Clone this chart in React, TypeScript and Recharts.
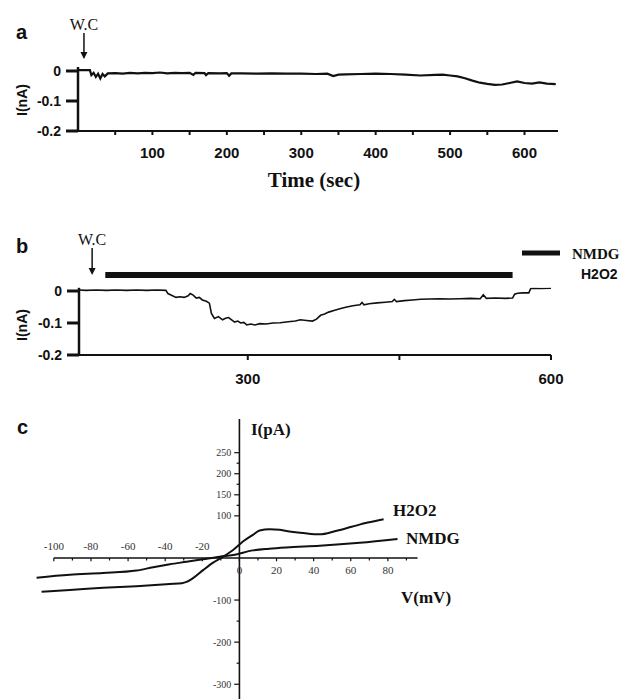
import React from "react"
import { LineChart, Line, XAxis, YAxis, ReferenceLine, ReferenceDot } from "recharts"

const sans = "'Liberation Sans', Arial, sans-serif"
const serif = "'Liberation Serif', 'Times New Roman', serif"
const ink = "#111"

// panel a: whole-cell current, control
const aTime = [0, 8, 16, 18, 21, 24, 27, 30, 33, 36, 40, 50, 60, 70, 80, 90, 100, 110, 120, 130, 140, 150, 155, 158, 170, 172, 175, 190, 200, 203, 206, 220, 240, 260, 280, 300, 320, 335, 343, 350, 360, 380, 400, 420, 440, 460, 480, 490, 500, 510, 520, 530, 540, 550, 560, 570, 580, 590, 600, 610, 620, 630, 642]
const aCurrent = [0.003, 0.003, 0.003, -0.014, -0.006, -0.02, -0.009, -0.025, -0.01, -0.018, -0.008, -0.007, -0.009, -0.006, -0.008, -0.006, -0.007, -0.005, -0.008, -0.006, -0.007, -0.006, -0.013, -0.006, -0.007, -0.014, -0.007, -0.008, -0.007, -0.016, -0.008, -0.008, -0.009, -0.008, -0.009, -0.009, -0.01, -0.009, -0.017, -0.012, -0.011, -0.01, -0.009, -0.01, -0.012, -0.015, -0.013, -0.012, -0.015, -0.018, -0.024, -0.032, -0.039, -0.043, -0.046, -0.045, -0.04, -0.035, -0.04, -0.042, -0.038, -0.042, -0.044]
const aXTicks = [50, 100, 150, 200, 250, 300, 350, 400, 450, 500, 550, 600]
const aYTicks = [-0.2, -0.1, 0]
const aWC = 8

// panel b: whole-cell current with H2O2
const bTime = [133, 140, 150, 160, 170, 180, 190, 200, 210, 219, 221, 225, 229, 233, 237, 241, 243, 246, 249, 252, 255, 259, 262, 264, 267, 271, 275, 278, 281, 284, 287, 290, 293, 296, 299, 303, 307, 312, 318, 325, 332, 340, 347, 352, 358, 364, 368, 372, 376, 380, 386, 392, 398, 404, 411, 413, 415, 420, 428, 436, 443, 445, 447, 455, 463, 471, 480, 490, 500, 510, 520, 530, 533, 536, 545, 555, 562, 564, 567, 572, 578, 580, 583, 590, 600]
const bCurrent = [0.003, 0.002, 0.003, 0.002, 0.003, 0.002, 0.003, 0.002, 0.003, 0.002, -0.008, -0.014, -0.02, -0.018, -0.02, -0.015, -0.008, -0.013, -0.022, -0.02, -0.028, -0.032, -0.038, -0.07, -0.086, -0.08, -0.09, -0.085, -0.083, -0.09, -0.097, -0.094, -0.1, -0.098, -0.106, -0.103, -0.106, -0.102, -0.103, -0.1, -0.099, -0.096, -0.094, -0.09, -0.092, -0.094, -0.088, -0.076, -0.072, -0.066, -0.06, -0.055, -0.05, -0.046, -0.043, -0.036, -0.043, -0.04, -0.037, -0.035, -0.033, -0.026, -0.033, -0.03, -0.028, -0.026, -0.025, -0.024, -0.025, -0.024, -0.023, -0.024, -0.012, -0.023, -0.022, -0.023, -0.022, -0.01, -0.007, -0.006, -0.006, 0.008, 0.009, 0.008, 0.009]
const bXTicks = [300, 450, 600]
const bYTicks = [-0.2, -0.1, 0]
const bWC = 146
const bH2O2 = [159, 562]

// panel c: I-V curves
const cVoltH2O2 = [-106.6, -91.4, -73.5, -55.5, -37.5, -31, -28.5, -25, -19.6, -14.2, -8.8, -3.4, 1.9, 7.3, 10.9, 16.3, 21.7, 25.3, 34.6, 43.2, 51.9, 60.5, 69.1, 77.7]
const cCurH2O2 = [-80, -76, -71, -67, -62, -60, -57, -48, -29, -11, 3, 19, 39, 55, 65, 68, 67, 64, 59, 56, 64, 74, 84, 92]
const cVoltNMDG = [-109.3, -91.4, -73.5, -55.5, -46.5, -37.5, -28.5, -19.6, -10.6, -3.4, 7.3, 16, 25.3, 43.2, 64.8, 85.2]
const cCurNMDG = [-47, -40, -36, -30, -22, -15, -9, -3, 3, 7, 18, 22, 25, 29, 36, 45]
const cXLabels = [-100, -80, -60, -40, -20, 0, 20, 40, 60, 80]
const cXMinor = [-90, -70, -50, -30, -10, 10, 30, 50, 70, 90]
const cYLabels = [250, 200, 150, 100, -100, -200, -300]
const cYMinor = [225, 175, 125, -150, -250]

const aData = aTime.map((t, i) => ({ t, i: aCurrent[i] }))
const bData = bTime.map((t, i) => ({ t, i: bCurrent[i] }))
const h2o2Data = cVoltH2O2.map((v, i) => ({ v, i: cCurH2O2[i] }))
const nmdgData = cVoltNMDG.map((v, i) => ({ v, i: cCurNMDG[i] }))

function Arrowhead(props: any) {
  const { cx, cy } = props
  return <path d={`M${cx - 3.5},${cy - 7}L${cx + 3.5},${cy - 7}L${cx},${cy}Z`} fill={ink} />
}

const tickText = { fill: ink, fontSize: 14, fontWeight: 700, fontFamily: sans }
const wcLabel = { value: "W.C", position: "top" as const, offset: 3, fill: ink, fontSize: 16, fontFamily: serif }

function PanelA() {
  return (
    <LineChart width={626} height={200} data={aData} margin={{ top: 67, right: 68, bottom: 39, left: 0 }}>
      <XAxis type="number" dataKey="t" domain={[0, 645]} ticks={aXTicks} interval={0} allowDataOverflow
        tickFormatter={(v) => (v % 100 === 0 ? String(v) : "")} height={30}
        axisLine={{ stroke: ink, strokeWidth: 2 }} tickLine={{ stroke: ink, strokeWidth: 2 }}
        tickSize={4} tickMargin={12} tick={{ ...tickText, fontSize: 15 }} />
      <YAxis type="number" domain={[-0.2, 0.0133]} ticks={aYTicks} interval={0} allowDataOverflow width={78}
        axisLine={{ stroke: ink, strokeWidth: 2.5 }} tickLine={{ stroke: ink, strokeWidth: 3 }}
        tickSize={12} tickMargin={5} tick={tickText} />
      <Line dataKey="i" stroke={ink} strokeWidth={2.2} dot={false} isAnimationActive={false} />
      <ReferenceLine segment={[{ x: aWC, y: 0.045 }, { x: aWC, y: 0.127 }]} stroke={ink} strokeWidth={1.5}
        ifOverflow="visible" label={wcLabel} />
      <ReferenceDot x={aWC} y={0.04} ifOverflow="visible" shape={Arrowhead} />
    </LineChart>
  )
}

function PanelB() {
  return (
    <LineChart width={626} height={200} data={bData} margin={{ top: 87.8, right: 75, bottom: 15, left: 0 }}>
      <XAxis type="number" dataKey="t" domain={[133, 600]} ticks={bXTicks} interval={0} allowDataOverflow
        tickFormatter={(v) => (v === 450 ? "" : String(v))} height={30}
        axisLine={{ stroke: ink, strokeWidth: 2 }} tickLine={{ stroke: ink, strokeWidth: 2 }}
        tickSize={5} tickMargin={13} tick={{ ...tickText, fontSize: 15 }} />
      <YAxis type="number" domain={[-0.2, 0.01]} ticks={bYTicks} interval={0} allowDataOverflow width={79}
        axisLine={{ stroke: ink, strokeWidth: 2.5 }} tickLine={{ stroke: ink, strokeWidth: 3 }}
        tickSize={12} tickMargin={5} tick={tickText} />
      <Line dataKey="i" stroke={ink} strokeWidth={1.6} dot={false} isAnimationActive={false} />
      <ReferenceLine segment={[{ x: bH2O2[0], y: 0.05 }, { x: bH2O2[1], y: 0.05 }]} stroke={ink} strokeWidth={6}
        ifOverflow="visible" />
      <ReferenceLine segment={[{ x: bWC, y: 0.056 }, { x: bWC, y: 0.134 }]} stroke={ink} strokeWidth={1.5}
        ifOverflow="visible" label={wcLabel} />
      <ReferenceDot x={bWC} y={0.05} ifOverflow="visible" shape={Arrowhead} />
    </LineChart>
  )
}

const smallText = { fill: "#333", fontSize: 11, fontFamily: serif }

function PanelC() {
  return (
    <LineChart width={626} height={309} margin={{ top: 29, right: 201, bottom: 0, left: 26 }}>
      <XAxis type="number" dataKey="v" domain={[-115, 100]} allowDataOverflow hide />
      <YAxis type="number" domain={[-335, 330]} allowDataOverflow hide />
      <ReferenceLine x={0} stroke={ink} strokeWidth={1.6} />
      <ReferenceLine segment={[{ x: -100, y: 0 }, { x: 96, y: 0 }]} stroke={ink} strokeWidth={1.6} />
      {cXMinor.map((v) => (
        <ReferenceLine key={"xm" + v} segment={[{ x: v, y: 0 }, { x: v, y: -6 }]} stroke={ink} strokeWidth={1.2} />
      ))}
      {cXLabels.map((v) => (
        <ReferenceLine key={"x" + v} segment={[{ x: v, y: 0 }, { x: v, y: -8 }]} stroke={ink} strokeWidth={1.2}
          label={{ value: String(v), position: v < 0 ? "top" : "bottom", offset: v < 0 ? 8 : 5, ...smallText }} />
      ))}
      {cYMinor.map((v) => (
        <ReferenceLine key={"ym" + v} segment={[{ x: -1.5, y: v }, { x: 0, y: v }]} stroke={ink} strokeWidth={1.2} />
      ))}
      {cYLabels.map((v) => (
        <ReferenceLine key={"y" + v} segment={[{ x: -2.8, y: v }, { x: 0, y: v }]} stroke={ink} strokeWidth={1.2}
          label={{ value: String(v), position: "left", offset: 3, ...smallText, fontSize: 10 }} />
      ))}
      <Line data={nmdgData} dataKey="i" type="monotone" stroke={ink} strokeWidth={2} dot={false} isAnimationActive={false} />
      <Line data={h2o2Data} dataKey="i" type="monotone" stroke={ink} strokeWidth={2} dot={false} isAnimationActive={false} />
    </LineChart>
  )
}

export default function App() {
  return (
    <div style={{ position: "absolute", left: 0, top: 0, width: 626, height: 699, background: "#fff", overflow: "hidden" }}>
      <div style={{ position: "absolute", left: 0, top: 0 }}><PanelA /></div>
      <div style={{ position: "absolute", left: 0, top: 200 }}><PanelB /></div>
      <div style={{ position: "absolute", left: 0, top: 390 }}><PanelC /></div>
      <svg width={626} height={699} style={{ position: "absolute", left: 0, top: 0, pointerEvents: "none" }}>
        <g fill={ink}>
          <text x={16} y={39} fontSize={20} fontWeight={700} fontFamily={sans}>a</text>
          <text x={16} y={253} fontSize={20} fontWeight={700} fontFamily={sans}>b</text>
          <text x={17} y={434} fontSize={20} fontWeight={700} fontFamily={sans}>c</text>
          <text transform="translate(27,100) rotate(-90)" textAnchor="middle" fontSize={14} fontWeight={700} fontFamily={sans}>I(nA)</text>
          <text transform="translate(27,325) rotate(-90)" textAnchor="middle" fontSize={14} fontWeight={700} fontFamily={sans}>I(nA)</text>
          <text x={314} y={187} textAnchor="middle" fontSize={21} fontWeight={700} fontFamily={serif}>Time (sec)</text>
          <rect x={522} y={250.5} width={38} height={5} />
          <text x={572} y={259} fontSize={15} fontWeight={700} fontFamily={serif}>NMDG</text>
          <text x={581} y={279} fontSize={14} fontWeight={700} fontFamily={sans}>H2O2</text>
          <text x={251} y={435} fontSize={17} fontWeight={700} fontFamily={serif}>I(pA)</text>
          <text x={401} y={603} fontSize={17} fontWeight={700} fontFamily={serif}>V(mV)</text>
          <text x={393} y={516} fontSize={17} fontWeight={700} fontFamily={serif}>H2O2</text>
          <text x={406} y={544} fontSize={17} fontWeight={700} fontFamily={serif}>NMDG</text>
        </g>
      </svg>
    </div>
  )
}
